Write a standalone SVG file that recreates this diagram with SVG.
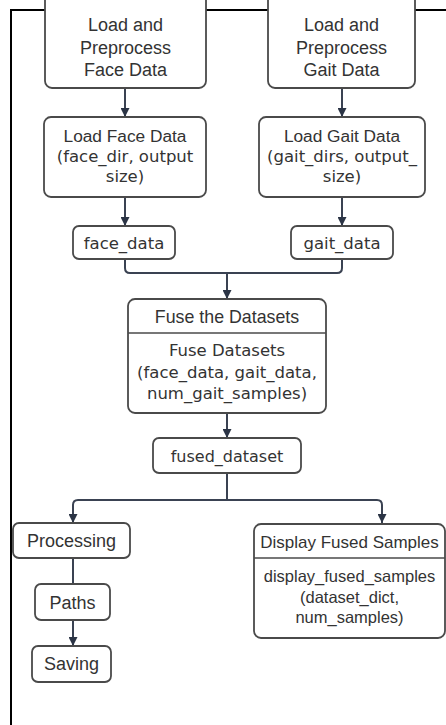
<svg xmlns="http://www.w3.org/2000/svg" width="446" height="725" viewBox="0 0 446 725">
<defs>
<style>
.box{fill:#ffffff;stroke:#4a4a4a;stroke-width:1.8}
.sep{stroke:#4a4a4a;stroke-width:1.5}
.t{font-family:"Liberation Sans",Arial,sans-serif;fill:#333333;text-anchor:middle}
.c{font-family:"DejaVu Sans",Verdana,sans-serif;fill:#333333;text-anchor:middle}
.edge{fill:none;stroke:#3a4252;stroke-width:2}
</style>
<marker id="arr" viewBox="0 0 10 10" refX="10" refY="5" markerWidth="9" markerHeight="9" markerUnits="userSpaceOnUse" orient="auto">
<path d="M0,0 L10,5 L0,10 z" fill="#2b3445"/>
</marker>
</defs>
<rect x="0" y="0" width="446" height="725" fill="#ffffff"/>
<g id="frame">
<line x1="10" y1="10" x2="446" y2="10" stroke="#000" stroke-width="2"/>
<line x1="11" y1="9" x2="11" y2="725" stroke="#000" stroke-width="2"/>
</g>
<g id="connectors">
<path class="edge" d="M125,88 V117" marker-end="url(#arr)"/>
<path class="edge" d="M342,88 V117" marker-end="url(#arr)"/>
<path class="edge" d="M125,197 V226" marker-end="url(#arr)"/>
<path class="edge" d="M342,197 V226" marker-end="url(#arr)"/>
<path class="edge" d="M125,259 V268 Q125,273 130,273 H337 Q342,273 342,268 V259"/>
<path class="edge" d="M227,273 V299" marker-end="url(#arr)"/>
<path class="edge" d="M227,413 V438" marker-end="url(#arr)"/>
<path class="edge" d="M227,473 V500"/>
<path class="edge" d="M227,500 H78 Q73,500 73,505 V523" marker-end="url(#arr)"/>
<path class="edge" d="M227,500 H377 Q382,500 382,505 V523" marker-end="url(#arr)"/>
<path class="edge" d="M73,558 V584"/>
<path class="edge" d="M73,620 V646" marker-end="url(#arr)"/>
</g>
<g id="preprocess-face">
<rect class="box" x="45" y="-10" width="161" height="98" rx="7"/>
<text class="t" font-size="18"><tspan x="125.5" y="31">Load and</tspan><tspan x="125.5" y="54">Preprocess</tspan><tspan x="125.5" y="76">Face Data</tspan></text>
</g>
<g id="preprocess-gait">
<rect class="box" x="268" y="-10" width="147" height="98" rx="7"/>
<text class="t" font-size="18"><tspan x="341.5" y="31">Load and</tspan><tspan x="341.5" y="54">Preprocess</tspan><tspan x="341.5" y="76">Gait Data</tspan></text>
</g>
<g id="load-face">
<rect class="box" x="44" y="117" width="162" height="80" rx="7"/>
<text class="t" font-size="17.3" x="125" y="142">Load Face Data</text>
<text class="c" font-size="16.5"><tspan x="125" y="162">(face_dir, output</tspan><tspan x="125" y="182">size)</tspan></text>
</g>
<g id="load-gait">
<rect class="box" x="259" y="117" width="166" height="80" rx="7"/>
<text class="t" font-size="17.3" x="342" y="142">Load Gait Data</text>
<text class="c" font-size="16.5"><tspan x="342" y="162">(gait_dirs, output_</tspan><tspan x="342" y="182">size)</tspan></text>
</g>
<g id="face-data">
<rect class="box" x="73" y="226" width="102" height="33" rx="6"/>
<text class="c" font-size="16.5" x="124" y="248.5">face_data</text>
</g>
<g id="gait-data">
<rect class="box" x="291" y="226" width="102" height="33" rx="6"/>
<text class="c" font-size="16.5" x="342" y="248.5">gait_data</text>
</g>
<g id="fuse">
<rect class="box" x="128" y="299" width="198" height="114" rx="7"/>
<line class="sep" x1="128" y1="333" x2="326" y2="333"/>
<text class="t" font-size="17.8" x="227" y="323">Fuse the Datasets</text>
<text class="c" font-size="16.5"><tspan x="227" y="356">Fuse Datasets</tspan><tspan x="227" y="378">(face_data, gait_data,</tspan><tspan x="227" y="399">num_gait_samples)</tspan></text>
</g>
<g id="fused-dataset">
<rect class="box" x="153" y="438" width="148" height="35" rx="6"/>
<text class="c" font-size="16" x="227" y="462">fused_dataset</text>
</g>
<g id="processing">
<rect class="box" x="13" y="523" width="117" height="35" rx="6"/>
<text class="t" font-size="18" x="71.5" y="547">Processing</text>
</g>
<g id="paths">
<rect class="box" x="35" y="584" width="75" height="36" rx="6"/>
<text class="t" font-size="18" x="72.5" y="609">Paths</text>
</g>
<g id="saving">
<rect class="box" x="32" y="646" width="79" height="36" rx="6"/>
<text class="t" font-size="18" x="71.5" y="670">Saving</text>
</g>
<g id="display">
<rect class="box" x="254" y="524" width="191" height="114" rx="7"/>
<line class="sep" x1="254" y1="558" x2="445" y2="558"/>
<text class="t" font-size="17" x="349.5" y="548">Display Fused Samples</text>
<text class="t" font-size="16.5"><tspan x="349.5" y="582">display_fused_samples</tspan><tspan x="349.5" y="603">(dataset_dict,</tspan><tspan x="349.5" y="623">num_samples)</tspan></text>
</g>
</svg>
